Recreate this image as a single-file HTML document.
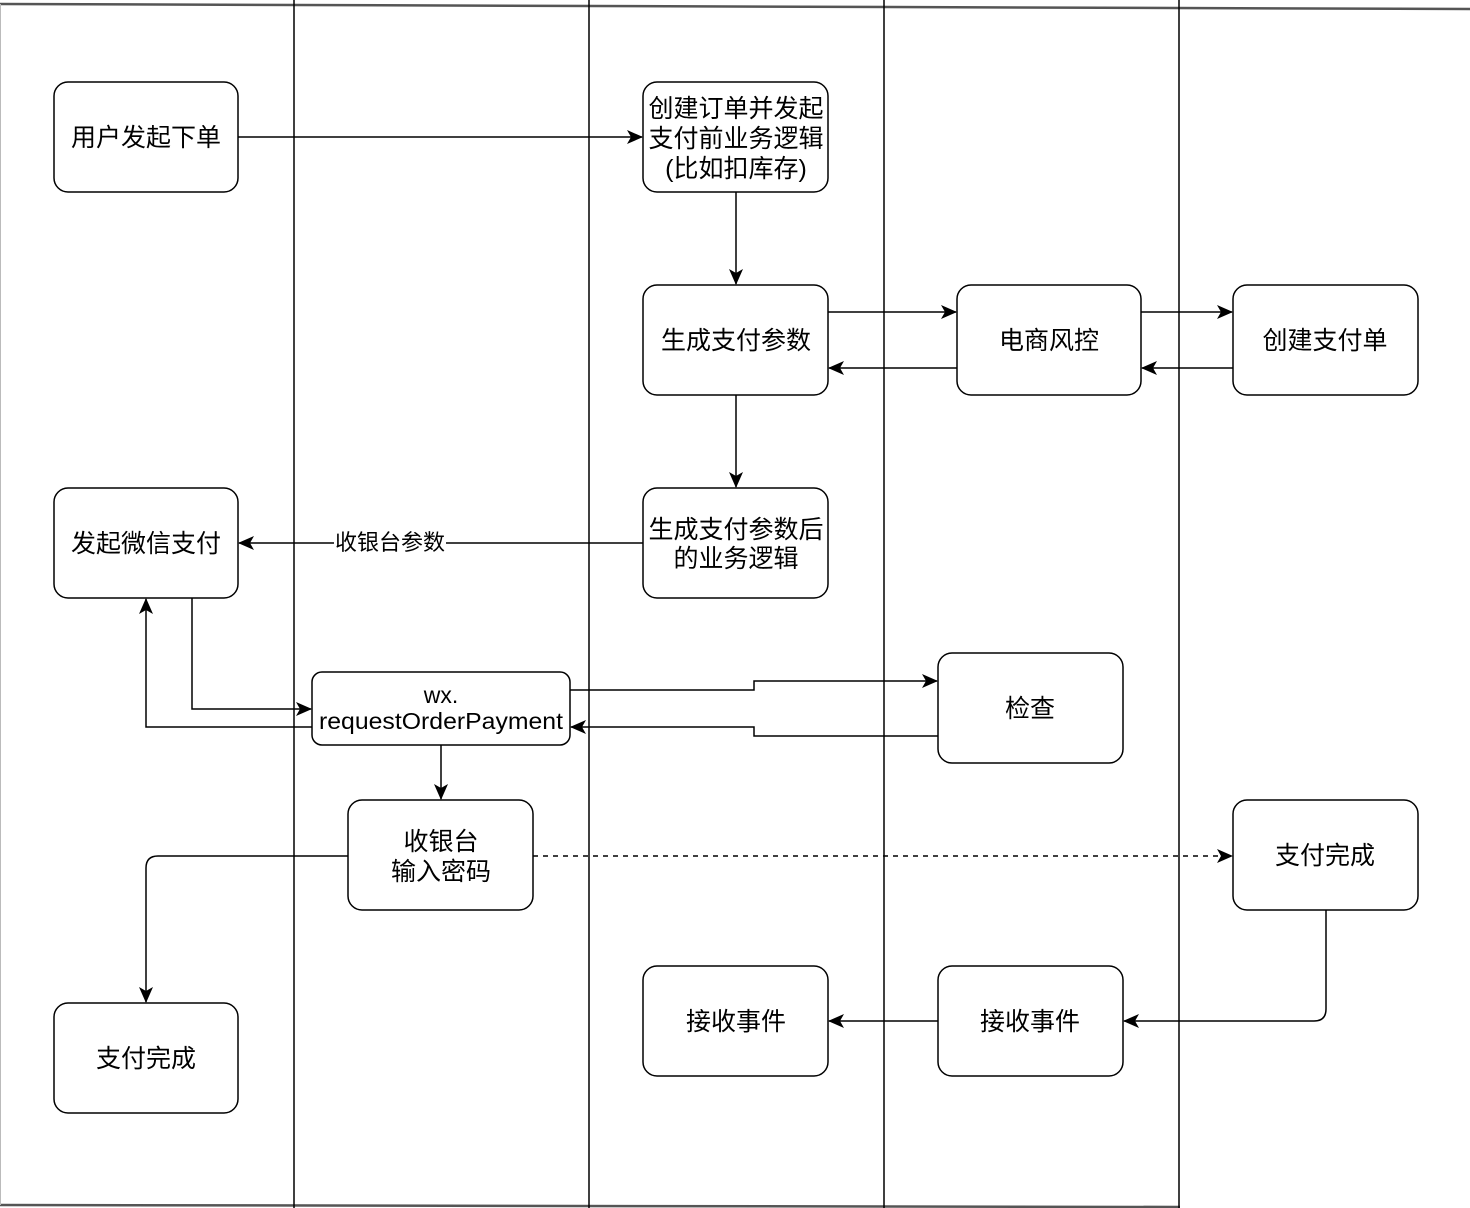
<!DOCTYPE html>
<html><head><meta charset="utf-8"><style>
html,body{margin:0;padding:0;background:#fff;}
svg{display:block;}
text{font-family:"Liberation Sans","Noto Sans CJK SC",sans-serif;font-size:25px;fill:#000;text-anchor:middle;}
.b{fill:#fff;stroke:#000;stroke-width:1.5;}
.l{fill:none;stroke:#000;stroke-width:1.5;}
</style></head><body>
<svg width="1470" height="1208" viewBox="0 0 1470 1208" xmlns="http://www.w3.org/2000/svg">
<defs><marker id="a" markerWidth="16" markerHeight="14" refX="15" refY="7" orient="auto" markerUnits="userSpaceOnUse"><path d="M0,0 L16,7 L0,14 L4,7 z" fill="#000"/></marker></defs>
<line x1="0" y1="4" x2="1470" y2="9" stroke="#555" stroke-width="2.5"/>
<line x1="0" y1="1205" x2="1180" y2="1207" stroke="#555" stroke-width="2.5"/>
<line x1="0.5" y1="4" x2="0.5" y2="1205" stroke="#bbb" stroke-width="1"/>
<g stroke="#000" stroke-width="1.5">
<line x1="294" y1="0" x2="294" y2="1208"/><line x1="589" y1="0" x2="589" y2="1208"/>
<line x1="884" y1="0" x2="884" y2="1208"/><line x1="1179" y1="0" x2="1179" y2="1208"/>
</g>
<path class="l" d="M238,137 H642" marker-end="url(#a)"/>
<path class="l" d="M736,192 V284" marker-end="url(#a)"/>
<path class="l" d="M736,395 V487" marker-end="url(#a)"/>
<path class="l" d="M828,312 H956" marker-end="url(#a)"/>
<path class="l" d="M957,368 H829" marker-end="url(#a)"/>
<path class="l" d="M1141,312 H1232" marker-end="url(#a)"/>
<path class="l" d="M1233,368 H1142" marker-end="url(#a)"/>
<path class="l" d="M643,543 H239" marker-end="url(#a)"/>
<rect x="334" y="530" width="112" height="26" fill="#fff"/>
<text x="390" y="550" style="font-size:22px">收银台参数</text>
<path class="l" d="M192,598 V709 H311" marker-end="url(#a)"/>
<path class="l" d="M312,727 H146 V599" marker-end="url(#a)"/>
<path class="l" d="M570,690 H754 V681 H937" marker-end="url(#a)"/>
<path class="l" d="M938,736 H754 V727 H571" marker-end="url(#a)"/>
<path class="l" d="M441,745 V799" marker-end="url(#a)"/>
<path class="l" d="M348,856 H158 Q146,856 146,868 V1002" marker-end="url(#a)"/>
<path class="l" d="M533,856 H1232" stroke-dasharray="5,5" marker-end="url(#a)"/>
<path class="l" d="M1326,910 V1009 Q1326,1021 1314,1021 H1124" marker-end="url(#a)"/>
<path class="l" d="M938,1021 H829" marker-end="url(#a)"/>
<rect class="b" x="54" y="82" width="184" height="110" rx="14"/>
<text x="146" y="146">用户发起下单</text>
<rect class="b" x="643" y="82" width="185" height="110" rx="14"/>
<text x="736" y="117">创建订单并发起</text><text x="736" y="147">支付前业务逻辑</text><text x="736" y="177">(比如扣库存)</text>
<rect class="b" x="643" y="285" width="185" height="110" rx="14"/>
<text x="736" y="349">生成支付参数</text>
<rect class="b" x="957" y="285" width="184" height="110" rx="14"/>
<text x="1049" y="349">电商风控</text>
<rect class="b" x="1233" y="285" width="185" height="110" rx="14"/>
<text x="1325" y="349">创建支付单</text>
<rect class="b" x="643" y="488" width="185" height="110" rx="14"/>
<text x="736" y="538">生成支付参数后</text><text x="736" y="567">的业务逻辑</text>
<rect class="b" x="54" y="488" width="184" height="110" rx="14"/>
<text x="146" y="552">发起微信支付</text>
<rect class="b" x="312" y="672" width="258" height="73" rx="10"/>
<text x="441" y="703" style="font-size:23px">wx.</text><text x="441" y="729" style="font-size:23px" textLength="244" lengthAdjust="spacingAndGlyphs">requestOrderPayment</text>
<rect class="b" x="938" y="653" width="185" height="110" rx="14"/>
<text x="1030" y="717">检查</text>
<rect class="b" x="348" y="800" width="185" height="110" rx="14"/>
<text x="441" y="850">收银台</text><text x="441" y="880">输入密码</text>
<rect class="b" x="1233" y="800" width="185" height="110" rx="14"/>
<text x="1325" y="864">支付完成</text>
<rect class="b" x="54" y="1003" width="184" height="110" rx="14"/>
<text x="146" y="1067">支付完成</text>
<rect class="b" x="643" y="966" width="185" height="110" rx="14"/>
<text x="736" y="1030">接收事件</text>
<rect class="b" x="938" y="966" width="185" height="110" rx="14"/>
<text x="1030" y="1030">接收事件</text>
</svg>
</body></html>
